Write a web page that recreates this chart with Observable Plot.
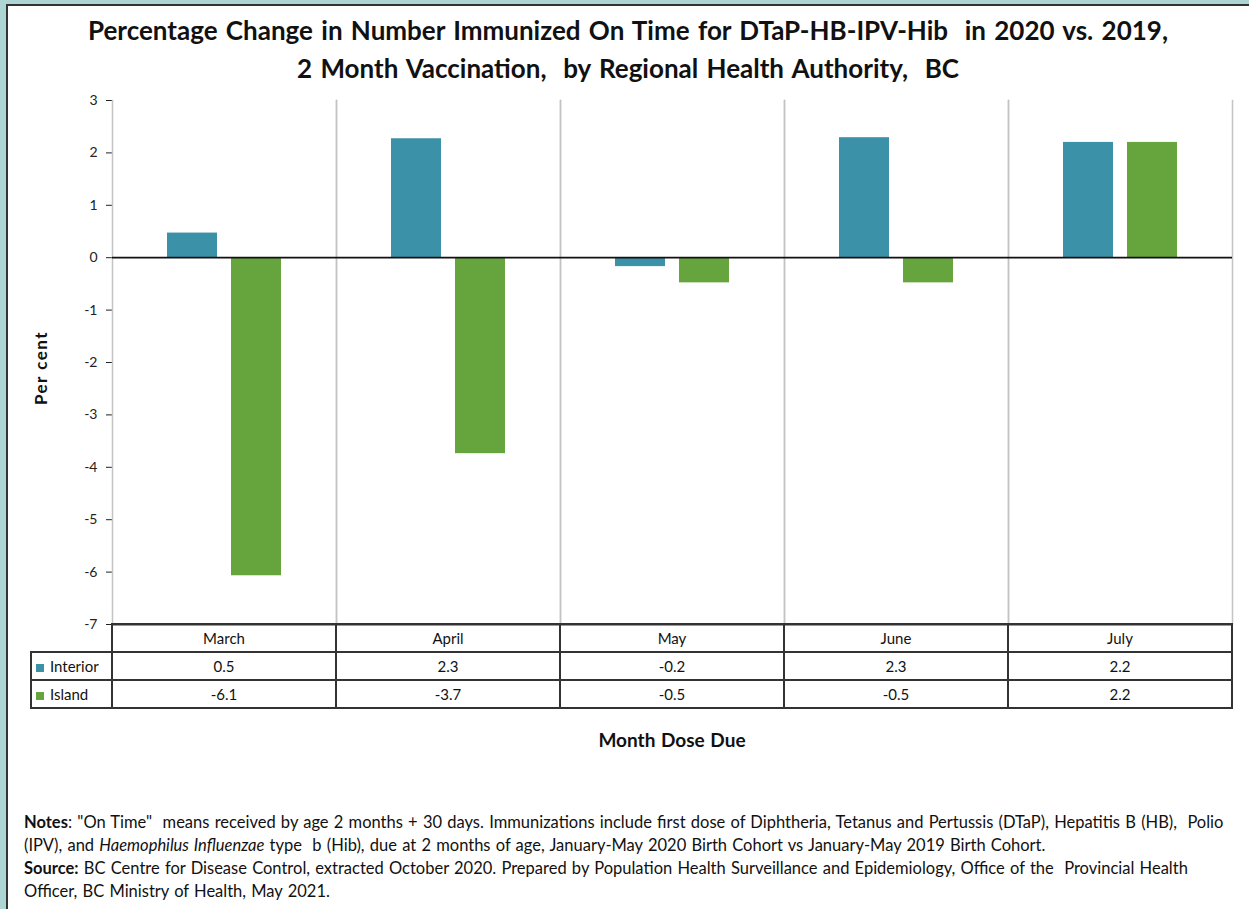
<!DOCTYPE html>
<html>
<head>
<meta charset="utf-8">
<script src="https://cdn.jsdelivr.net/npm/d3@7"></script>
<script src="https://cdn.jsdelivr.net/npm/@observablehq/plot@0.6"></script>
<style>
  html, body { margin: 0; padding: 0; }
  body { width: 1249px; height: 909px; overflow: hidden; position: relative; background: #acd5d3; font-family: Lato, "Open Sans", sans-serif; color: #111; }
  #panel { position: absolute; left: 6px; top: 4px; width: 1260px; height: 920px; background: #fff; border-top: 2px solid #333; border-left: 2px solid #333; }
  #title { position: absolute; left: 0; top: 11px; width: 1256px; text-align: center; font-weight: bold; font-size: 26px; line-height: 38px; word-spacing: 2px; white-space: pre; color: #111; }
  #chart { position: absolute; left: 0; top: 0; }
  #ylabel { position: absolute; left: 40px; top: 368px; transform: translate(-50%, -50%) rotate(-90deg); font-weight: bold; font-size: 17px; letter-spacing: 1.5px; white-space: nowrap; }
  #xlabel { position: absolute; left: 0; width: 1344px; top: 728px; text-align: center; font-weight: bold; font-size: 19px; line-height: 24px; word-spacing: 1px; }
  #notes { position: absolute; left: 24px; top: 811px; font-size: 16.5px; line-height: 23px; word-spacing: 1px; color: #111; }
  #notes div { white-space: pre; height: 23px; }
  table.dt { position: absolute; border-collapse: collapse; table-layout: fixed; font-size: 15px; }
  table.dt td { border: 2px solid #333; height: 26px; padding: 0; text-align: center; vertical-align: middle; white-space: nowrap; }
  table.dt td.corner { border-top: none; border-left: none; border-bottom: 2px solid #333; }
  table.dt td.leg { text-align: left; padding-left: 4px; }
  .sw { display: inline-block; width: 8px; height: 8px; margin-right: 6px; vertical-align: 0px; }
</style>
</head>
<body>
<div id="panel"></div>
<div id="chart"></div>
<div id="title">Percentage Change in Number Immunized On Time for DTaP-HB-IPV-Hib  in 2020 vs. 2019,
2 Month Vaccination,  by Regional Health Authority,  BC</div>
<div id="ylabel">Per cent</div>
<div id="xlabel">Month Dose Due</div>
<div id="notes">
<div><b>Notes</b>: "On Time"  means received by age 2 months + 30 days. Immunizations include first dose of Diphtheria, Tetanus and Pertussis (DTaP), Hepatitis B (HB),  Polio</div>
<div>(IPV), and <i>Haemophilus Influenzae</i> type  b (Hib), due at 2 months of age, January-May 2020 Birth Cohort vs January-May 2019 Birth Cohort.</div>
<div><b>Source:</b> BC Centre for Disease Control, extracted October 2020. Prepared by Population Health Surveillance and Epidemiology, Office of the  Provincial Health</div>
<div>Officer, BC Ministry of Health, May 2021.</div>
</div>
<script>
const months = ["March", "April", "May", "June", "July"];
const series = ["Interior", "Island"];
const interior = [0.47, 2.27, -0.17, 2.29, 2.2];
const island = [-6.07, -3.74, -0.48, -0.48, 2.2];
const yTicks = [3, 2, 1, 0, -1, -2, -3, -4, -5, -6, -7];
const seriesColors = ["#3a91a8", "#66a53d"];

const valuesBySeries = {Interior: interior, Island: island};
const data = [];
months.forEach((m, i) => series.forEach(s => data.push({month: m, series: s, value: valuesBySeries[s][i]})));

const chart = Plot.plot({
  width: 1249,
  height: 640,
  marginTop: 100,
  marginLeft: 112,
  marginRight: 17,
  marginBottom: 16,
  style: {background: "transparent", fontFamily: "Lato, sans-serif", fontSize: "14px", color: "#222"},
  fx: {domain: months, padding: 0, axis: null},
  x: {domain: series, paddingInner: 0.22, paddingOuter: 0.86, axis: null},
  y: {domain: [-7, 3], ticks: yTicks, tickSize: 6, tickPadding: 9, tickFormat: d => String(d), label: null, line: true},
  color: {domain: series, range: seriesColors},
  marks: [
    Plot.frame({anchor: "left", stroke: "#c4c4c4", strokeWidth: 1.5}),
    Plot.frame({anchor: "right", stroke: "#c4c4c4", strokeWidth: 1.5}),
    Plot.barY(data, {fx: "month", x: "series", y: "value", fill: "series"}),
    Plot.ruleY([0], {stroke: "#111", strokeWidth: 1.8}),
    Plot.ruleY([-7], {stroke: "#333", strokeWidth: 2})
  ]
});
document.getElementById("chart").appendChild(chart);

// data table aligned with the fx scale
const fx = chart.scale("fx");
const color = chart.scale("color");
const bw = fx.bandwidth;
const x0 = fx.apply(months[0]);
const legW = 81;
const table = document.createElement("table");
table.className = "dt";
table.style.left = (x0 - legW - 1) + "px";
table.style.top = "623px";
const colgroup = document.createElement("colgroup");
[legW, ...months.map(() => bw)].forEach(w => { const c = document.createElement("col"); c.style.width = w + "px"; colgroup.appendChild(c); });
table.appendChild(colgroup);
const hr = document.createElement("tr");
const corner = document.createElement("td"); corner.className = "corner"; hr.appendChild(corner);
months.forEach(m => { const td = document.createElement("td"); td.textContent = m; hr.appendChild(td); });
table.appendChild(hr);
series.forEach(s => {
  const tr = document.createElement("tr");
  const lt = document.createElement("td"); lt.className = "leg";
  const sw = document.createElement("span"); sw.className = "sw"; sw.style.background = color.apply(s);
  lt.appendChild(sw); lt.appendChild(document.createTextNode(s));
  tr.appendChild(lt);
  valuesBySeries[s].forEach(v => { const td = document.createElement("td"); td.textContent = v.toFixed(1); tr.appendChild(td); });
  table.appendChild(tr);
});
document.body.appendChild(table);
</script>
</body>
</html>
